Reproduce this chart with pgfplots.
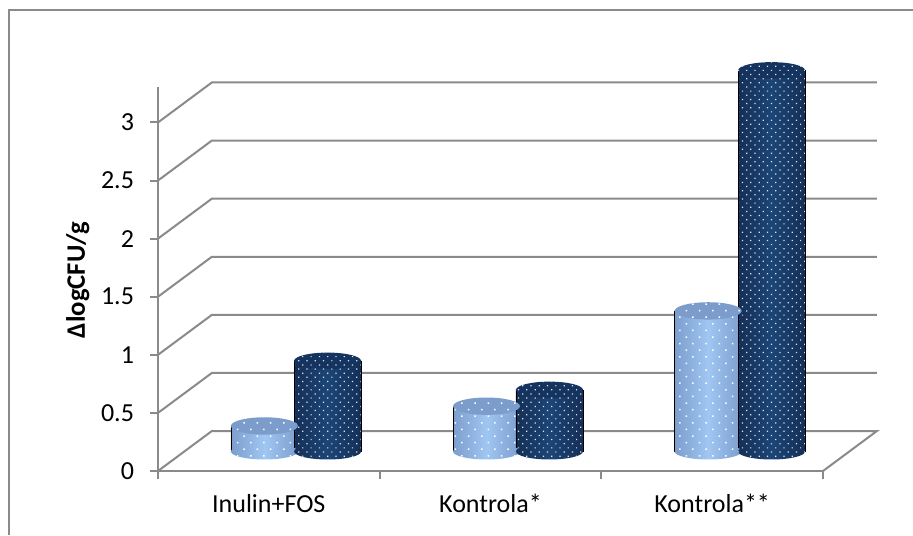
\documentclass[border=0pt]{standalone}
\usepackage{fontspec}
\setmainfont{Carlito}
\usepackage{pgfplots}
\pgfplotsset{compat=1.18}
\usetikzlibrary{patterns.meta}

\definecolor{axisgray}{HTML}{8A8A8A}
\definecolor{lightmid}{HTML}{A0C6F2}
\definecolor{lightedge}{HTML}{7C9ECE}
\definecolor{lightcap}{HTML}{7C9DCB}
\definecolor{darkmid}{HTML}{1C4576}
\definecolor{darkedge}{HTML}{142F57}
\definecolor{darkcap}{HTML}{14335F}

\tikzset{
  lightside/.style={left color=lightedge,right color=lightedge,middle color=lightmid},
  darkside/.style={left color=darkedge,right color=darkedge,middle color=darkmid},
  lightdots/.style={pattern={Dots[radius=0.8pt,distance=7pt,angle=45]},pattern color=white},
  darkdots/.style={pattern={Dots[radius=0.65pt,distance=4.4pt,angle=45]},pattern color=white!85!darkmid},
  lightcapfill/.style={fill=lightcap},
  darkcapfill/.style={fill=darkcap},
}
% marks hold a filled ellipse and the dots over it
\newcommand{\cylmark}[5]{%
  \pgfdeclareplotmark{#1}{%
    \path[rotate=#3,#4] (0pt,0pt) ellipse[x radius=25.1pt,y radius=#2];
    \path[rotate=#3,#5] (0pt,0pt) ellipse[x radius=25.1pt,y radius=#2];
  }%
}
\cylmark{lightbase}{6pt}{4}{lightside}{lightdots}
\cylmark{darkbase}{6pt}{4}{darkside}{darkdots}
\cylmark{lighttop}{6.5pt}{6}{lightcapfill}{lightdots}
\cylmark{darktop}{6.2pt}{6}{darkcapfill}{darkdots}

% one cylinder: kind, left x, centre x, right x, value
\newcommand{\cylinder}[5]{
  \addplot[only marks,mark=#1base,draw=none] coordinates {(#3,0)};
  \addplot[#1side,forget plot] coordinates {(#2,0) (#2,#5) (#4,#5) (#4,0)} -- cycle;
  \addplot[#1dots,forget plot] coordinates {(#2,0) (#2,#5) (#4,#5) (#4,0)} -- cycle;
  \addplot[only marks,mark=#1top,draw=none] coordinates {(#3,#5)};
}

\begin{document}
\begin{tikzpicture}
\path[use as bounding box] (0pt,0pt) rectangle (684.75pt,-401.25pt);
\draw[axisgray,line width=1.5pt] (6.75pt,-401.25pt) -- (6.75pt,-7.5pt) -- (684.75pt,-7.5pt);

% walls and floor
\begin{axis}[
  at={(118.5pt,-353.25pt)},anchor=south west,
  scale only axis,width=498.75pt,height=288pt,
  xmin=0,xmax=3,ymin=0,ymax=3.305,
  clip=false,
  axis x line=bottom,axis y line=left,
  axis line style={-,axisgray,line width=1.5pt},
  xtick={0,1,2,3},
  xticklabels={Inulin+FOS,Kontrola*,Kontrola**},
  x tick label as interval,
  ytick={0,0.5,1,1.5,2,2.5,3},
  tick align=outside,
  major tick length=6pt,
  tick style={axisgray,line width=1.5pt},
  tick label style={font=\fontsize{19.5}{22}\selectfont,black},
  /pgf/number format/assume math mode=true,
  y tick label style={xshift=-8.5pt},
  x tick label style={yshift=-8pt},
  ylabel={\bfseries ΔlogCFU/g},
  ylabel style={font=\fontsize{20}{22}\selectfont,at={(axis description cs:-0.11,0.497)},anchor=base},
]
\addplot[axisgray,line width=1.5pt] coordinates {(0,0) (0.243,0.344) (3.243,0.344) (3,0)};
\addplot[axisgray,line width=1.5pt] coordinates {(0,0.5) (0.243,0.844) (3.243,0.844)};
\addplot[axisgray,line width=1.5pt] coordinates {(0,1) (0.243,1.344) (3.243,1.344)};
\addplot[axisgray,line width=1.5pt] coordinates {(0,1.5) (0.243,1.844) (3.243,1.844)};
\addplot[axisgray,line width=1.5pt] coordinates {(0,2) (0.243,2.344) (3.243,2.344)};
\addplot[axisgray,line width=1.5pt] coordinates {(0,2.5) (0.243,2.844) (3.243,2.844)};
\addplot[axisgray,line width=1.5pt] coordinates {(0,3) (0.243,3.344) (3.243,3.344)};
\end{axis}

% cylinders: same box, zero moved up to the floor level
\begin{axis}[
  at={(118.5pt,-353.25pt)},anchor=south west,
  scale only axis,width=498.75pt,height=288pt,
  xmin=0,xmax=3,ymin=-0.168,ymax=3.137,
  clip=false,hide axis,
]
\cylinder{light}{0.329}{0.480}{0.631}{0.22}
\cylinder{dark}{0.614}{0.765}{0.916}{0.78}
\cylinder{light}{1.331}{1.482}{1.633}{0.39}
\cylinder{dark}{1.615}{1.766}{1.917}{0.53}
\cylinder{light}{2.331}{2.482}{2.633}{1.21}
\cylinder{dark}{2.617}{2.768}{2.919}{3.28}
\end{axis}
\end{tikzpicture}
\end{document}
